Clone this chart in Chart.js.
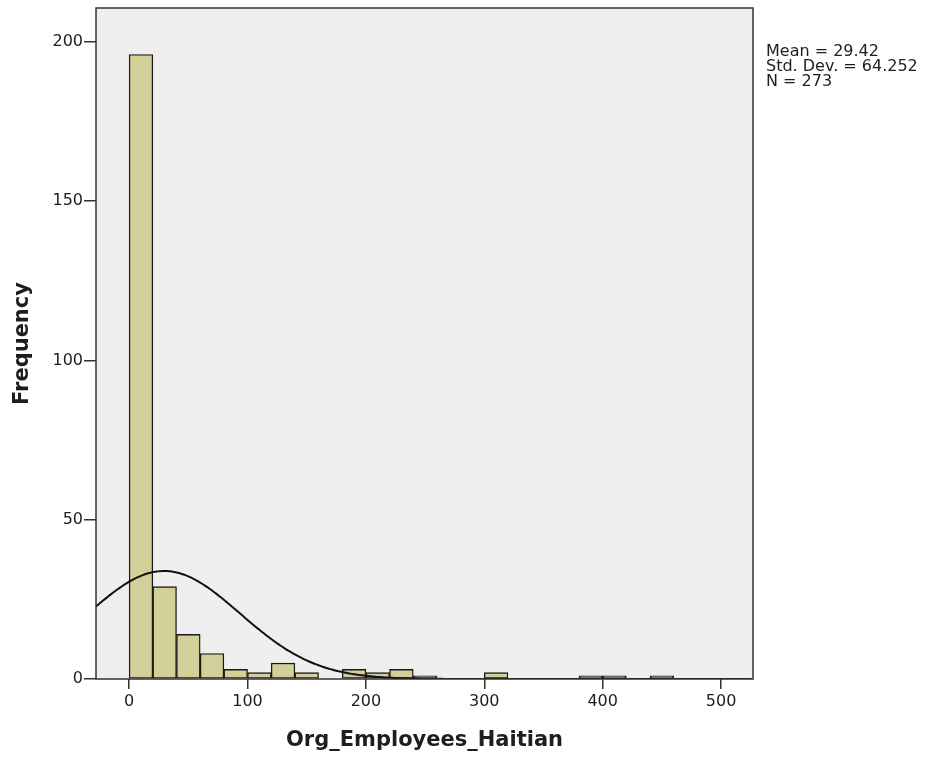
<!DOCTYPE html>
<html>
<head>
<meta charset="utf-8">
<title>Org_Employees_Haitian</title>
<script src="https://cdn.jsdelivr.net/npm/chart.js@4/dist/chart.umd.min.js"></script>
<style>
  html, body { margin: 0; padding: 0; background: #ffffff; }
  canvas { display: block; }
</style>
</head>
<body>
<canvas id="hist" width="932" height="757"></canvas>
<script>
// Histogram bins (lower edge of each 20-wide bin) and counts per bin
const binStarts = [0, 20, 40, 60, 80, 100, 120, 140, 160, 180, 200, 220, 240, 260, 280, 300, 320, 340, 360, 380, 400, 420, 440];
const frequencies = [196, 29, 14, 8, 3, 2, 5, 2, 0, 3, 2, 3, 1, 0, 0, 2, 0, 0, 0, 1, 1, 0, 1];
const binWidth = 20;

// Summary statistics shown beside the plot
const statMean = 29.42;
const statStdDev = 64.252;
const statN = 273;
const statLines = ['Mean = 29.42', 'Std. Dev. = 64.252', 'N = 273'];

// Axis settings
const xTicks = [0, 100, 200, 300, 400, 500];
const yTicks = [0, 50, 100, 150, 200];
const xRange = [-28, 527];
const yRange = [0, 210.6];

const barData = binStarts.map((s, i) => ({ x: s + binWidth / 2, y: frequencies[i] }));

// Normal curve scaled to counts: N * binWidth * pdf(x)
const curveData = [];
for (let x = xRange[0]; x <= xRange[1]; x += 2) {
  const z = (x - statMean) / statStdDev;
  const y = statN * binWidth * Math.exp(-0.5 * z * z) / (statStdDev * Math.sqrt(2 * Math.PI));
  curveData.push({ x: x, y: y });
}

const FONT = 'DejaVu Sans';
const TEXT = '#1e1e1e';

const framePlugin = {
  id: 'frame',
  beforeDraw(chart) {
    const { ctx, chartArea: a } = chart;
    ctx.save();
    ctx.fillStyle = '#efefef';
    ctx.fillRect(a.left, a.top, a.right - a.left, a.bottom - a.top);
    ctx.restore();
  },
  afterDraw(chart) {
    const { ctx, chartArea: a } = chart;
    ctx.save();
    ctx.strokeStyle = '#333333';
    ctx.lineWidth = 1.5;
    ctx.strokeRect(a.left, a.top, a.right - a.left, a.bottom - a.top);
    ctx.fillStyle = TEXT;
    ctx.font = '16px "' + FONT + '"';
    ctx.textAlign = 'left';
    ctx.textBaseline = 'alphabetic';
    statLines.forEach((t, i) => ctx.fillText(t, a.right + 13, 56 + i * 15));
    ctx.restore();
  }
};

function noEdgePadding(scale) {
  scale.paddingTop = 0;
  scale.paddingBottom = 0;
  scale.paddingLeft = 0;
  scale.paddingRight = 0;
}

new Chart(document.getElementById('hist'), {
  data: {
    datasets: [
      {
        type: 'line',
        data: curveData,
        borderColor: '#111111',
        borderWidth: 2,
        pointRadius: 0,
        tension: 0,
        fill: false,
        order: 0
      },
      {
        type: 'bar',
        data: barData,
        backgroundColor: '#d3cf98',
        borderColor: '#1a1a1a',
        borderWidth: 1.4,
        borderSkipped: false,
        barPercentage: 1,
        categoryPercentage: 1,
        order: 1
      }
    ]
  },
  options: {
    responsive: false,
    animation: false,
    devicePixelRatio: 1,
    layout: { padding: { left: 0, right: 179, top: 8, bottom: 0 } },
    plugins: { legend: { display: false }, tooltip: { enabled: false } },
    scales: {
      x: {
        type: 'linear',
        offset: false,
        min: xRange[0],
        max: xRange[1],
        afterBuildTicks(scale) { scale.ticks = xTicks.map(v => ({ value: v })); },
        afterFit(scale) { scale.height = 78; noEdgePadding(scale); },
        grid: { offset: false, drawOnChartArea: false, tickLength: 10, color: '#333333', lineWidth: 1.5 },
        border: { display: false },
        ticks: { color: TEXT, font: { family: FONT, size: 16 }, padding: 3, maxRotation: 0 },
        title: {
          display: true,
          text: 'Org_Employees_Haitian',
          color: TEXT,
          font: { family: FONT, size: 21, weight: 'bold' },
          padding: { top: 0, bottom: 4 }
        }
      },
      y: {
        type: 'linear',
        min: yRange[0],
        max: yRange[1],
        afterBuildTicks(scale) { scale.ticks = yTicks.map(v => ({ value: v })); },
        afterFit(scale) { scale.width = 96; noEdgePadding(scale); },
        grid: { drawOnChartArea: false, tickLength: 12, color: '#333333', lineWidth: 1.5 },
        border: { display: false },
        ticks: { color: TEXT, font: { family: FONT, size: 16 }, padding: 1 },
        title: {
          display: true,
          text: 'Frequency',
          color: TEXT,
          font: { family: FONT, size: 21, weight: 'bold' },
          padding: { top: 10, bottom: 0 }
        }
      }
    }
  },
  plugins: [framePlugin]
});
</script>
</body>
</html>
